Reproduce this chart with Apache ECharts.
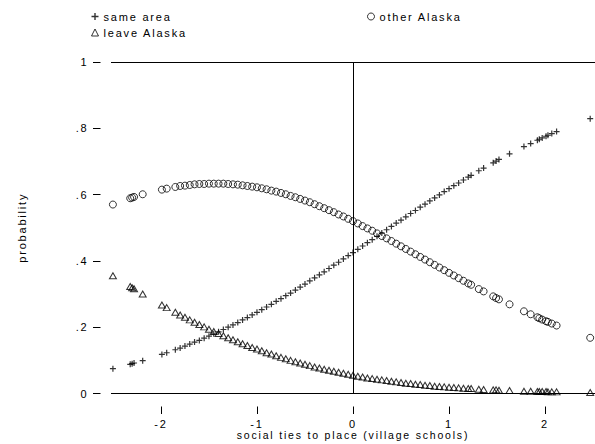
<!DOCTYPE html>
<html>
<head>
<meta charset="utf-8">
<script src="https://cdn.jsdelivr.net/npm/echarts@6/dist/echarts.min.js"></script>
<style>
  html, body { margin: 0; padding: 0; background: #fff; }
  #chart { width: 595px; height: 444px; }
  /* spaced lettering like the original */
  #chart text { letter-spacing: 1.8px; }
</style>
</head>
<body>
<div id="chart"></div>
<script>
// social ties score of each observation
const xVals = [-2.50, -2.32, -2.30, -2.28, -2.19, -1.99, -1.94,
  -1.85, -1.80, -1.75, -1.70, -1.65, -1.60, -1.55, -1.50, -1.45, -1.40, -1.35, -1.30, -1.25, -1.20,
  -1.15, -1.10, -1.05, -1.00, -0.95, -0.90, -0.85, -0.80, -0.75, -0.70, -0.65, -0.60, -0.55, -0.50,
  -0.45, -0.40, -0.35, -0.30, -0.25, -0.20, -0.15, -0.10, -0.05, 0.00, 0.05, 0.10, 0.15, 0.20,
  0.25, 0.30, 0.35, 0.40, 0.45, 0.50, 0.55, 0.60, 0.65, 0.70, 0.75, 0.80, 0.85, 0.90, 0.95, 1.00,
  1.05, 1.10, 1.15, 1.20,
  1.23, 1.31, 1.36, 1.46, 1.49, 1.52, 1.63, 1.78, 1.85, 1.92, 1.94, 1.97, 2.01, 2.03, 2.07, 2.12, 2.47];

// predicted probabilities
const sameArea = [0.075, 0.088, 0.090, 0.092, 0.099, 0.118, 0.123,
  0.132, 0.137, 0.143, 0.149, 0.155, 0.160, 0.167, 0.173, 0.180, 0.186, 0.193, 0.200, 0.207, 0.214,
  0.222, 0.229, 0.237, 0.245, 0.253, 0.261, 0.269, 0.278, 0.286, 0.295, 0.303, 0.312, 0.321, 0.330,
  0.340, 0.349, 0.358, 0.367, 0.377, 0.387, 0.396, 0.406, 0.416, 0.425, 0.435, 0.445, 0.455, 0.464,
  0.474, 0.484, 0.494, 0.504, 0.514, 0.523, 0.533, 0.543, 0.552, 0.562, 0.571, 0.581, 0.590, 0.599,
  0.609, 0.618, 0.627, 0.635, 0.644, 0.653,
  0.658, 0.672, 0.680, 0.696, 0.701, 0.706, 0.723, 0.745, 0.754, 0.764, 0.767, 0.771, 0.776, 0.779,
  0.784, 0.790, 0.829];

const otherAlaska = [0.570, 0.589, 0.591, 0.593, 0.601, 0.615, 0.618,
  0.623, 0.626, 0.627, 0.629, 0.631, 0.632, 0.632, 0.633, 0.633, 0.633, 0.633, 0.632, 0.631, 0.630,
  0.628, 0.626, 0.624, 0.622, 0.619, 0.616, 0.612, 0.609, 0.605, 0.601, 0.596, 0.592, 0.587, 0.582,
  0.577, 0.571, 0.565, 0.559, 0.553, 0.547, 0.540, 0.534, 0.527, 0.520, 0.513, 0.505, 0.498, 0.491,
  0.483, 0.475, 0.468, 0.460, 0.452, 0.444, 0.436, 0.428, 0.420, 0.412, 0.404, 0.396, 0.388, 0.380,
  0.372, 0.364, 0.356, 0.348, 0.340, 0.332,
  0.328, 0.315, 0.308, 0.293, 0.288, 0.284, 0.269, 0.248, 0.239, 0.230, 0.227, 0.223, 0.218, 0.216,
  0.211, 0.205, 0.168];

const leaveAlaska = [0.355, 0.323, 0.319, 0.316, 0.300, 0.267, 0.259,
  0.245, 0.237, 0.230, 0.222, 0.215, 0.208, 0.201, 0.194, 0.187, 0.181, 0.174, 0.168, 0.162, 0.156,
  0.150, 0.145, 0.139, 0.134, 0.129, 0.123, 0.119, 0.114, 0.109, 0.105, 0.100, 0.096, 0.092, 0.088,
  0.084, 0.080, 0.077, 0.073, 0.070, 0.067, 0.064, 0.061, 0.058, 0.055, 0.052, 0.050, 0.047, 0.045,
  0.043, 0.041, 0.039, 0.037, 0.035, 0.033, 0.031, 0.030, 0.028, 0.027, 0.025, 0.024, 0.022, 0.021,
  0.020, 0.019, 0.018, 0.017, 0.016, 0.015,
  0.015, 0.013, 0.012, 0.011, 0.011, 0.010, 0.009, 0.007, 0.007, 0.006, 0.006, 0.006, 0.006, 0.005,
  0.005, 0.005, 0.003];

const xTicks = [-2, -1, 0, 1, 2];
const xTitle = 'social ties to place (village schools)';

const font = "'Liberation Sans', Arial, sans-serif";
const plusPath = 'path://M2,0H3V2H5V3H3V5H2V3H0V2H2Z';
const hollow = { color: 'rgba(0,0,0,0)', borderColor: '#000', borderWidth: 1 };

const pairs = (ys) => xVals.map((x, i) => [x, ys[i]]);

const chart = echarts.init(document.getElementById('chart'), null, { renderer: 'svg' });

chart.setOption({
  animation: false,
  backgroundColor: '#fff',
  textStyle: { fontFamily: font, color: '#000' },
  grid: { left: 111, right: 0, top: 62, bottom: 50.5, outerBoundsMode: 'none', containLabel: false },
  // x title as free text so it stays inside the picture
  graphic: [{
    type: 'text', x: 353, y: 429,
    style: {
      text: xTitle, fill: '#000', font: "10.5px 'Liberation Sans', Arial, sans-serif",
      textAlign: 'center', textVerticalAlign: 'top'
    }
  }],
  legend: [
    {
      left: 86, top: 6, orient: 'vertical', itemGap: 5,
      itemWidth: 7, itemHeight: 7,
      textStyle: { fontFamily: font, fontSize: 11, color: '#000' },
      data: [
        { name: 'same area', icon: plusPath, itemStyle: { color: '#000', borderWidth: 0 } },
        { name: 'leave Alaska', icon: 'triangle', itemStyle: hollow }
      ]
    },
    {
      left: 362, top: 6, itemWidth: 7, itemHeight: 7,
      textStyle: { fontFamily: font, fontSize: 11, color: '#000' },
      data: [{ name: 'other Alaska', icon: 'circle', itemStyle: hollow }]
    }
  ],
  xAxis: {
    type: 'value', min: -2.52, max: 2.52, offset: 13,
    axisLine: { show: false, onZero: false },
    axisTick: { show: true, inside: false, length: 7.5, customValues: xTicks, lineStyle: { color: '#000' } },
    axisLabel: { customValues: xTicks, margin: 12, fontSize: 11, color: '#000', fontFamily: font },
    splitLine: { show: false }
  },
  yAxis: {
    type: 'value', min: 0, max: 1, interval: 0.2, offset: 10.5,
    name: 'probability', nameLocation: 'middle', nameGap: 73,
    nameTextStyle: { fontFamily: font, fontSize: 11, color: '#000' },
    axisLine: { show: false, onZero: false },
    axisTick: { show: true, inside: false, length: 7.5, lineStyle: { color: '#000' } },
    axisLabel: {
      margin: 12, fontSize: 11, color: '#000', fontFamily: font,
      formatter: (v) => (v === 0 ? '0' : v === 1 ? '1' : v.toFixed(1).replace(/^0\./, '.'))
    },
    splitLine: { show: false }
  },
  series: [
    {
      name: 'same area', type: 'scatter', symbol: plusPath, symbolSize: 6,
      itemStyle: { color: '#000' },
      data: pairs(sameArea),
      markLine: {
        silent: true, symbol: 'none', label: { show: false },
        lineStyle: { color: '#000', width: 1, type: 'solid' },
        data: [{ yAxis: 0 }, { yAxis: 1 }, { xAxis: 0 }]
      }
    },
    {
      name: 'other Alaska', type: 'scatter', symbol: 'circle', symbolSize: 7,
      itemStyle: hollow,
      data: pairs(otherAlaska)
    },
    {
      name: 'leave Alaska', type: 'scatter', symbol: 'triangle', symbolSize: [7, 6],
      itemStyle: hollow,
      data: pairs(leaveAlaska)
    }
  ]
});
</script>
</body>
</html>
